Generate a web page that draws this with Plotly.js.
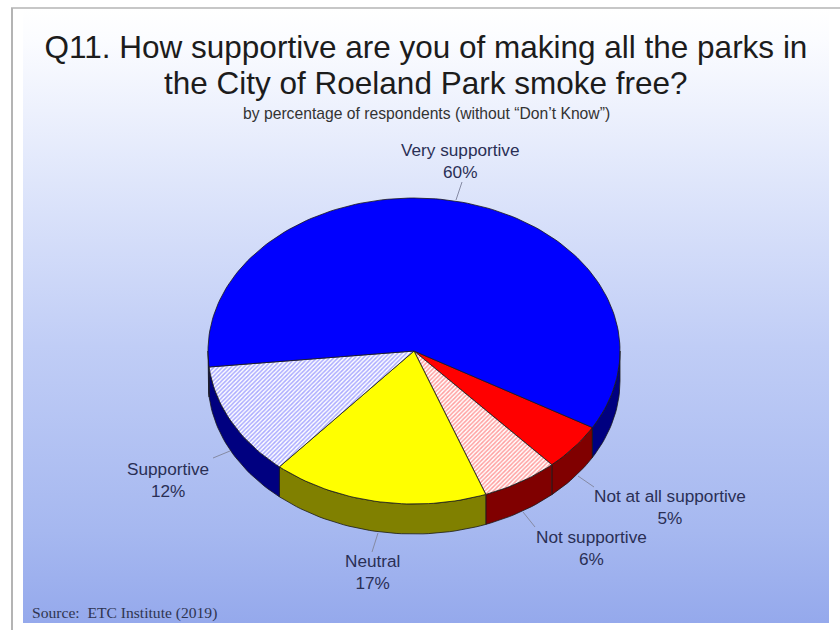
<!DOCTYPE html>
<html>
<head>
<meta charset="utf-8">
<script src="https://cdn.plot.ly/plotly-3.0.1.min.js"></script>
<style>
html,body{margin:0;padding:0;background:#fff;width:840px;height:630px;overflow:hidden}
#panel{position:absolute;left:23px;top:9px;width:806px;height:614px;
background:linear-gradient(to bottom,#ffffff 0%,#fbfcff 5%,#dfe6fb 28%,#c0cdf6 55%,#a6b8f0 85%,#95a9ec 100%)}
#chart{position:absolute;left:0;top:0;width:840px;height:630px}
</style>
</head>
<body>
<div id="panel"></div>
<div id="chart"></div>
<script>
const categories = ["Not at all supportive","Not supportive","Neutral","Supportive","Very supportive"];
const shares = [5,6,17,12,60];
const topColors = ["#ff0000","#ffffff","#ffff00","#ffffff","#0000ff"];
const sideColors = ["#800000","#800000","#808000","#000080","#000080"];
const patternFg = [null,"#ff9f9f",null,"#aaaaff",null];
const titleLines = ["Q11. How supportive are you of making all the parks in","the City of Roeland Park smoke free?"];
const subtitle = "by percentage of respondents (without “Don’t Know”)";
const source = "Source:  ETC Institute (2019)";

const W=840,H=630,cx=414,cy=351,rx=206,ry=153,depthPx=30,startDeg=30;
const depth=depthPx/ry;
const rad=d=>d*Math.PI/180;
const px=x=>x/W, py=y=>1-y/H;
const sum=shares.reduce((a,b)=>a+b,0);
const traces=[];
let a=startDeg;
const spans=shares.map(s=>{const o=[a,a+s/sum*360];a=o[1];return o;});
const arc=(a0,a1,dz)=>{const n=Math.max(2,Math.ceil(Math.abs(a1-a0)/1.5));const xs=[],ys=[];
  for(let i=0;i<=n;i++){const t=rad(a0+(a1-a0)*i/n);xs.push(Math.cos(t));ys.push(-Math.sin(t)-dz);}return [xs,ys];};
// side walls: only the front half of the rim (0..180 and 360..540)
spans.forEach((sp,i)=>{
  [[0,180],[360,540]].forEach(([lo,hi])=>{
    const a0=Math.max(sp[0],lo),a1=Math.min(sp[1],hi);
    if(a1<=a0)return;
    const [x1,y1]=arc(a0,a1,0),[x2,y2]=arc(a1,a0,depth);
    traces.push({type:"scatter",mode:"lines",x:[...x1,...x2,x1[0]],y:[...y1,...y2,y1[0]],fill:"toself",
      fillcolor:sideColors[i],line:{color:"#1a1a1a",width:0.8},hoverinfo:"skip",showlegend:false});
  });
});
// top faces
spans.forEach((sp,i)=>{
  const [xs,ys]=arc(sp[0],sp[1],0);
  const tr={type:"scatter",mode:"lines",name:categories[i],x:[0,...xs,0],y:[0,...ys,0],fill:"toself",
    fillcolor:topColors[i],line:{color:"#1a1a1a",width:0.8},hoverinfo:"name",showlegend:false};
  if(patternFg[i]) tr.fillpattern={shape:"/",fgcolor:patternFg[i],bgcolor:"#ffffff",size:3,solidity:0.5};
  traces.push(tr);
});
const lab=(i,x,y)=>({xref:"paper",yref:"paper",x:px(x),y:py(y),xanchor:"center",yanchor:"middle",showarrow:false,
  align:"center",text:categories[i]+"<br>"+shares[i]+"%",font:{family:"Liberation Sans, Arial, sans-serif",size:17.2,color:"#2a2f55"}});
const leader=(x0,y0,x1,y1)=>({type:"line",xref:"paper",yref:"paper",x0:px(x0),y0:py(y0),x1:px(x1),y1:py(y1),line:{color:"#858aa3",width:1}});
const layout={
  width:W,height:H,margin:{l:0,r:0,t:0,b:0},paper_bgcolor:"rgba(0,0,0,0)",plot_bgcolor:"rgba(0,0,0,0)",showlegend:false,
  title:{text:titleLines[0],x:px(426),xanchor:"center",y:py(47),yanchor:"middle",font:{family:"Liberation Sans, Arial, sans-serif",size:31.5,color:"#1c1c1c"}},
  xaxis:{range:[-cx/rx,(W-cx)/rx],visible:false,fixedrange:true},
  yaxis:{range:[-(H-cy)/ry,cy/ry],visible:false,fixedrange:true},
  shapes:[
    leader(462,182,456,200),leader(213,458,230,451),leader(372,552,378,533),leader(535,527,523,512),leader(594,487,578,476),
    {type:"line",xref:"paper",yref:"paper",x0:px(12),x1:px(12),y0:py(8),y1:py(630),line:{color:"#b4b4b4",width:2}},
    {type:"line",xref:"paper",yref:"paper",x0:px(11),x1:px(840),y0:py(8),y1:py(8),line:{color:"#b4b4b4",width:1.5}}
  ],
  annotations:[
    {xref:"paper",yref:"paper",x:px(426),y:py(83),xanchor:"center",yanchor:"middle",showarrow:false,text:titleLines[1],font:{family:"Liberation Sans, Arial, sans-serif",size:31.5,color:"#1c1c1c"}},
    {xref:"paper",yref:"paper",x:px(426),y:py(113),xanchor:"center",yanchor:"middle",showarrow:false,text:subtitle,font:{family:"Liberation Sans, Arial, sans-serif",size:15.7,color:"#333"}},
    {xref:"paper",yref:"paper",x:px(30),y:py(613),xanchor:"left",yanchor:"middle",showarrow:false,text:source,font:{family:"Liberation Serif, Times New Roman, serif",size:15.6,color:"#2f3550"}},
    lab(4,460,161),lab(3,168,480),lab(2,372,572),lab(1,591,548),lab(0,670,507)
  ]
};
Plotly.newPlot("chart",traces,layout,{displayModeBar:false,staticPlot:true});
</script>
</body>
</html>
